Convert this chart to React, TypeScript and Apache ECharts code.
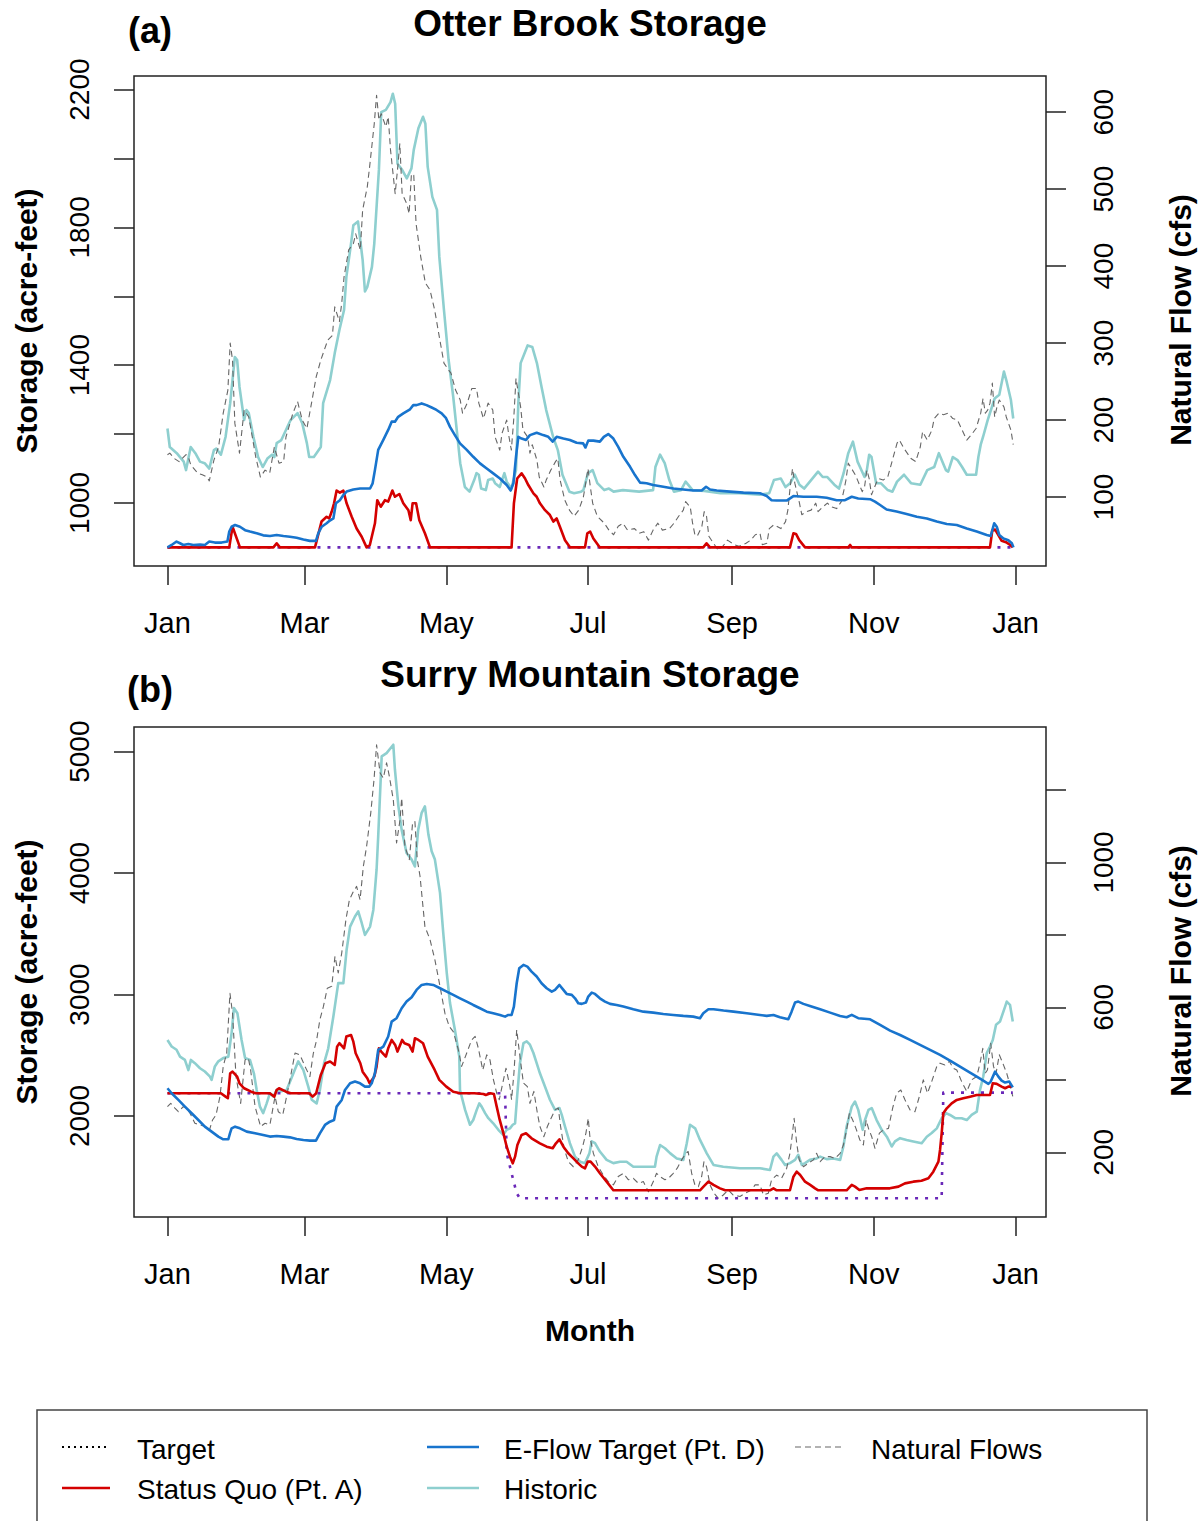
import React, { useEffect, useRef } from "react";
import * as echarts from "echarts";

const FONT = '"Liberation Sans", Arial, Helvetica, sans-serif';

// ---- axes / tick values ----
const monthDays = [0, 59, 120, 181, 243, 304, 365];
const monthLabels = ["Jan", "Mar", "May", "Jul", "Sep", "Nov", "Jan"];
const otterStorageTicks = [1000, 1200, 1400, 1600, 1800, 2000, 2200];
const otterStorageLabels = [1000, 1400, 1800, 2200];
const otterFlowTicks = [100, 200, 300, 400, 500, 600];
const surryStorageTicks = [2000, 3000, 4000, 5000];
const surryFlowTicks = [200, 400, 600, 800, 1000, 1200];
const surryFlowLabels = [200, 600, 1000];

// ---- Otter Brook (day of year, value) ----
const otterTarget = [[0, 871], [364, 871]];
const otterStatusQuo = [[0,871],[26.6,871],[28,931],[31.2,871],[45.6,871],[47,883],[48.4,871],[63.5,871],[66.3,946],[68.5,960],[69.6,955],[70.7,975],[71.7,999],[72.8,1036],[74.2,1030],[75.7,1036],[77.1,999],[79.3,960],[81.4,926],[83.6,902],[85.7,871],[87.1,878],[89.3,941],[90.3,1008],[91.8,989],[93.6,1008],[95,1004],[96.8,1036],[97.9,1018],[99.8,1026],[101.5,999],[103.7,979],[104.7,950],[105.5,999],[107,999],[108.4,950],[110.8,912],[113,871],[148.1,871],[149.1,999],[150.5,1071],[152.4,1086],[153.9,1071],[155.3,1052],[157.5,1028],[158.9,1018],[160.3,999],[162.5,979],[164.6,965],[166.1,946],[167.5,955],[168.9,931],[171.1,892],[173.3,871],[179.7,871],[180.7,912],[181.9,917],[183.3,897],[186.1,871],[230.6,871],[232,883],[233.5,871],[267.9,871],[269.4,912],[270.5,910],[271.9,892],[274.4,871],[293,871],[293.8,878],[294.5,871],[354,871],[355,921],[356.2,923],[357.6,907],[359,890],[361.2,885],[362.7,878],[363.8,871]];
const otterEFlow = [[0,871],[1.8,878],[3.9,888],[5.4,883],[6.8,878],[9,881],[11.1,878],[14,879],[16.1,878],[18,888],[20.4,885],[23.3,885],[25.8,888],[26.6,917],[27.6,931],[29.1,936],[31.2,931],[33.4,921],[35.5,917],[38.4,912],[41.2,906],[44.1,904],[47,907],[49.9,904],[52.7,902],[55.6,899],[58.5,894],[61.3,890],[63.9,890],[64.9,912],[66.4,931],[68.5,941],[69.9,949],[71.4,955],[72.5,999],[74.2,1008],[75.7,1023],[77.1,1033],[80,1039],[82.9,1042],[85,1042],[87.2,1042],[88.3,1057],[89.3,1096],[90.7,1154],[92.9,1183],[95,1212],[96.5,1236],[97.9,1236],[99.3,1250],[101.5,1260],[104.4,1272],[105.8,1284],[107.2,1284],[109.4,1289],[111.5,1284],[113.7,1277],[115.8,1270],[118,1260],[119.9,1246],[121.6,1221],[123.7,1197],[125.9,1173],[128.8,1154],[131.6,1134],[134.5,1115],[137.4,1100],[140.2,1086],[143.1,1071],[146,1052],[147.7,1036],[148.9,1057],[150,1134],[151,1192],[152.4,1187],[154.3,1183],[156,1197],[158.9,1204],[161.7,1197],[163.9,1192],[165.8,1178],[167.5,1192],[170.4,1187],[173.2,1183],[176.1,1175],[178.9,1173],[179.9,1161],[181.1,1181],[183.3,1181],[186.1,1178],[187.8,1192],[189.7,1200],[191.9,1187],[194,1163],[196.2,1134],[199.1,1105],[201.2,1081],[203.4,1059],[206.2,1057],[209,1052],[213.4,1047],[217.7,1042],[222,1039],[226.3,1036],[229.9,1036],[231.8,1047],[233.5,1039],[236.4,1036],[242.1,1033],[247.9,1030],[255,1028],[257.9,1020],[260,1008],[262.2,1007],[266.5,1007],[269.4,1020],[273.7,1018],[279.4,1018],[283.7,1015],[288,1008],[291.6,1008],[294.5,1018],[297.3,1013],[302.4,1011],[304.5,1004],[306.7,994],[309.5,981],[313.8,975],[318.1,968],[322.5,960],[326.8,955],[331.1,946],[335.4,939],[339.7,936],[344,926],[348.3,917],[352.6,907],[354.3,904],[355.8,941],[356.9,931],[358,907],[359.8,897],[361.9,892],[363.4,883],[364.1,871]];
const otterHistoric = [[0,189],[1,165],[4,157],[7,146],[8,135],[10,165],[12,157],[14,146],[16,144],[18,137],[20,161],[21,163],[23,155],[25,178],[27,222],[29,282],[30,278],[31,243],[33,200],[34,213],[35,209],[37,178],[39,152],[41,139],[43,150],[45,155],[46,152],[47,170],[49,174],[51,187],[53,200],[56,209],[58,196],[60,170],[61,152],[63,152],[66,165],[67,222],[70,252],[72,287],[74,317],[76,343],[77,386],[79,429],[80,453],[82,458],[84,408],[85,367],[86,373],[88,399],[89,429],[91,525],[92,600],[94,603],[96,613],[97,624],[98,611],[99,533],[101,525],[103,514],[105,527],[106,551],[108,579],[110,594],[111,585],[112,529],[114,490],[116,473],[117,412],[119,343],[121,278],[123,230],[126,144],[128,113],[130,107],[132,122],[133,131],[134,129],[135,111],[137,109],[138,122],[140,124],[141,118],[143,113],[145,131],[146,120],[148,111],[150,135],[151,222],[152,274],[155,297],[157,295],[159,274],[161,243],[163,213],[166,178],[168,161],[170,129],[173,107],[175,105],[178,107],[179,109],[181,131],[183,135],[185,118],[188,109],[190,111],[192,107],[196,109],[203,107],[209,109],[210,139],[212,155],[214,144],[216,122],[218,107],[221,109],[223,120],[226,109],[231,108],[238,105],[246,105],[255,103],[259,105],[261,122],[264,124],[266,113],[268,118],[270,129],[272,116],[274,111],[277,122],[280,133],[282,126],[284,126],[287,116],[289,111],[291,131],[293,157],[295,172],[297,146],[300,126],[301,135],[302,155],[303,152],[305,118],[307,118],[310,109],[312,107],[314,120],[317,129],[320,118],[324,116],[327,135],[330,139],[332,157],[335,135],[336,133],[338,152],[340,148],[342,139],[344,129],[348,129],[349,152],[350,168],[351,178],[353,200],[356,228],[358,233],[360,263],[361,252],[363,226],[364,202]];
const otterNatural = [[0,155],[1,157],[3,150],[5,146],[8,155],[9,152],[10,142],[13,131],[15,129],[17,126],[18,121],[20,148],[22,165],[24,209],[26,239],[27,300],[28,278],[29,196],[31,157],[33,213],[35,204],[36,187],[38,152],[40,126],[42,135],[44,131],[46,165],[48,144],[50,146],[51,178],[54,209],[56,224],[58,200],[60,189],[62,222],[64,256],[66,278],[69,304],[71,310],[72,347],[74,328],[75,352],[76,386],[78,421],[80,429],[81,442],[83,421],[84,473],[86,503],[87,529],[89,585],[90,622],[91,590],[92,598],[94,581],[95,594],[96,551],[98,494],[99,525],[100,559],[101,494],[103,481],[104,468],[105,520],[106,518],[107,455],[109,412],[111,378],[113,369],[115,343],[117,308],[119,274],[121,265],[122,261],[124,239],[126,226],[127,209],[129,222],[131,241],[133,241],[134,222],[136,202],[138,222],[140,213],[141,178],[143,161],[144,183],[146,200],[147,178],[148,161],[149,200],[150,254],[152,217],[153,187],[155,178],[156,157],[157,168],[159,148],[160,126],[162,113],[163,122],[165,135],[167,146],[168,150],[169,122],[171,96],[173,83],[175,75],[177,83],[179,100],[180,118],[181,137],[182,113],[183,92],[185,75],[188,66],[190,57],[192,51],[194,62],[196,66],[198,57],[201,59],[203,53],[205,55],[207,44],[209,57],[211,66],[212,62],[213,57],[216,59],[218,66],[220,75],[222,83],[223,94],[225,87],[226,66],[227,51],[228,49],[230,62],[231,81],[232,75],[233,49],[235,40],[237,31],[239,36],[241,44],[244,38],[246,36],[249,40],[251,44],[253,51],[255,53],[256,38],[258,40],[259,59],[261,64],[264,59],[266,68],[267,83],[268,113],[269,137],[270,118],[272,92],[273,77],[275,81],[277,83],[279,92],[280,81],[282,87],[284,92],[286,87],[288,85],[290,94],[291,107],[292,122],[293,144],[294,139],[296,129],[297,122],[299,107],[300,113],[301,135],[302,124],[303,103],[305,118],[306,124],[308,122],[310,126],[312,148],[314,170],[315,174],[317,163],[320,150],[322,146],[324,165],[325,185],[327,174],[329,187],[330,202],[332,209],[334,207],[336,209],[338,202],[340,200],[342,187],[344,174],[346,181],[348,189],[350,209],[351,228],[352,209],[353,213],[354,222],[355,248],[356,204],[357,217],[358,226],[359,222],[360,217],[361,204],[363,187],[364,168]];

// ---- Surry Mountain (day of year, value) ----
const surryTarget = [[0,2187],[145.3,2187],[146,1692],[148.1,1528],[150.3,1363],[151.7,1322],[333.2,1322],[333.9,2192],[363.8,2192]];
const surryStatusQuo = [[0,2187],[23,2187],[25,2159],[26,2146],[27,2352],[28,2365],[30,2324],[31,2269],[33,2228],[36,2200],[38,2187],[44,2187],[46,2159],[47,2214],[48,2228],[51,2200],[53,2187],[61,2187],[62.5,2159],[64,2187],[66,2338],[68,2434],[70,2448],[72,2420],[73,2571],[74,2599],[76,2557],[77,2654],[79,2667],[80,2612],[81,2516],[83,2434],[84,2365],[86,2310],[87,2269],[89,2324],[90,2406],[91,2557],[92,2530],[94,2489],[95,2557],[96.5,2626],[98,2585],[99,2530],[101,2626],[102,2599],[104,2585],[105.5,2530],[106.5,2640],[108,2626],[110,2599],[112,2489],[115,2379],[117,2297],[120,2242],[123,2200],[126,2187],[132,2187],[136,2181],[137,2173],[139,2187],[140.5,2181],[141.7,2077],[143,1967],[144.6,1857],[146,1747],[147.4,1665],[148.6,1610],[149.6,1665],[150.6,1761],[152.4,1844],[154.3,1857],[156.7,1816],[160.3,1775],[163.2,1747],[165.8,1734],[167.2,1775],[168.7,1808],[170.4,1747],[172.5,1693],[174.7,1651],[176.8,1610],[178.3,1583],[179.7,1569],[180.9,1624],[182.1,1624],[184,1583],[186.1,1528],[189,1459],[191.9,1388],[229.2,1388],[230.7,1418],[232.8,1459],[235,1432],[237.8,1404],[240,1388],[259.3,1388],[260.8,1404],[262.2,1388],[267.9,1388],[269.4,1500],[270.8,1542],[272.3,1514],[274.4,1459],[276.6,1432],[278.7,1404],[280.1,1388],[292.3,1388],[294.5,1432],[295.9,1418],[297.8,1390],[300.9,1404],[310.9,1404],[314.6,1418],[317.4,1445],[321,1459],[324.5,1467],[327.5,1487],[329.6,1541],[331.8,1624],[332.5,1720],[333.2,1857],[333.9,2022],[335.4,2063],[337.5,2104],[339.7,2132],[342.5,2146],[345.4,2159],[348.3,2173],[354,2173],[355.2,2269],[356.9,2264],[359,2242],[360.5,2228],[361.9,2242],[363.4,2242]];
const surryEFlow = [[0,2228],[1.8,2187],[4.7,2132],[7.5,2077],[10.4,2022],[13.3,1967],[16.1,1912],[19,1871],[21.9,1830],[24,1808],[26.2,1808],[26.9,1857],[27.6,1898],[29.1,1912],[31.2,1898],[34.1,1871],[37.7,1857],[41.2,1844],[44.1,1830],[47,1835],[49.9,1830],[52.7,1824],[55.6,1811],[58.5,1802],[61.3,1797],[63.9,1797],[65.6,1857],[67.8,1926],[69.9,1953],[71.7,1967],[72.8,2077],[75,2132],[76.4,2214],[78.6,2269],[80.7,2283],[82.9,2269],[85,2242],[86.9,2242],[87.9,2269],[89.3,2352],[90.7,2544],[92.9,2571],[95,2654],[96.5,2777],[98.6,2805],[100.8,2887],[102.9,2942],[105.1,2978],[107.2,3038],[109.4,3079],[111.6,3087],[114.4,3079],[117.3,3052],[120.2,3024],[123,2997],[125.9,2969],[128.8,2942],[131.6,2914],[134.5,2887],[137.4,2859],[140.2,2846],[143.1,2832],[145.3,2818],[146.7,2832],[148.1,2832],[149.1,2901],[150.3,3093],[151.4,3216],[153.2,3244],[154.9,3230],[156.7,3189],[158.9,3148],[161,3093],[163.2,3052],[165.4,3024],[166.8,3038],[168.7,3079],[170.4,3038],[171.8,3005],[174,2997],[175.4,2969],[176.8,2928],[178.3,2923],[180.1,2934],[181.1,2983],[182.6,3016],[184,3005],[186.1,2969],[188.3,2942],[190.5,2923],[193.3,2914],[196.2,2901],[200.5,2879],[204.8,2859],[209.1,2851],[213.4,2840],[217.7,2832],[222,2824],[226.3,2818],[229.2,2805],[230.6,2846],[232.8,2879],[235,2879],[239.3,2868],[243.6,2859],[249.3,2846],[255,2832],[257.9,2824],[260.8,2832],[263.6,2813],[267.2,2796],[268.6,2859],[270.1,2934],[271.5,2942],[273.7,2923],[276.5,2906],[280.9,2879],[285.2,2851],[289.5,2824],[292.3,2813],[294.5,2832],[297.3,2805],[302.4,2796],[306.7,2750],[311,2703],[315.3,2667],[319.6,2626],[323.9,2585],[328.2,2544],[332.5,2503],[336.8,2456],[341.1,2406],[345.4,2357],[348.3,2324],[351.1,2291],[353.3,2264],[354.3,2283],[356.2,2365],[357.6,2324],[359,2291],[360.5,2275],[362.3,2283],[363.8,2236]];
const surryHistoric = [[0,510],[1.8,492],[3.9,483],[5.4,464],[7.5,455],[9,427],[10.1,455],[11.8,446],[14,432],[16.1,423],[18.3,409],[19,400],[20.4,437],[21.9,451],[24,460],[26.2,464],[27.6,529],[28.6,598],[30.1,584],[31.9,510],[33.4,460],[35.5,455],[37.2,418],[38.4,372],[39.8,326],[41.2,308],[42.7,335],[44.1,363],[45.6,354],[47,372],[48.4,368],[51.3,372],[54.2,418],[56.3,451],[58.5,427],[60.6,381],[62.1,345],[64.2,335],[65.6,372],[67.4,446],[69.2,487],[71.4,575],[73.5,667],[75.7,667],[77.1,759],[78.6,823],[80.7,851],[82.1,865],[83.6,833],[85,800],[87.2,823],[88.6,869],[90,980],[90.7,1072],[92.2,1293],[94.3,1302],[97.2,1325],[97.9,1256],[99.4,1155],[100.8,1090],[102.9,1026],[105.1,1008],[106.5,989],[107.9,1090],[109.4,1137],[110.8,1155],[112.3,1077],[113.7,1031],[115.1,1008],[117.3,916],[118.7,805],[120.2,695],[121.6,612],[123.7,538],[125.6,464],[125.9,372],[128.1,317],[130.2,276],[131.6,289],[133.1,317],[134.2,335],[135.2,326],[136.7,308],[138.1,294],[140.2,280],[142.4,262],[144.5,248],[146,262],[147.4,266],[148.6,276],[149.6,280],[150.6,363],[151.7,446],[153.2,501],[154.6,506],[156,497],[157.5,474],[158.9,446],[160.3,418],[162.5,381],[164.6,345],[166.8,317],[168.7,322],[169.7,303],[171.1,271],[173.2,225],[175.4,188],[177.6,174],[179.7,170],[181.6,197],[182.6,230],[184,225],[186.1,202],[189,179],[191.9,170],[194.8,174],[197.6,174],[200.5,160],[206.2,160],[209.8,160],[210.5,188],[212,220],[214.1,211],[216.4,197],[219.2,183],[222,179],[223.5,225],[224.9,276],[227.1,266],[229.2,234],[232.1,197],[235,165],[239.2,160],[246.4,156],[255,156],[259.3,151],[260.8,188],[262.2,197],[264.3,179],[265.8,165],[267.9,170],[270.1,179],[271.5,193],[273,165],[274.4,170],[276.5,179],[279.4,183],[280.9,188],[283.7,181],[286.6,183],[289.5,179],[290.9,216],[292.3,271],[294.5,326],[295.9,340],[297.3,317],[299.2,262],[300.2,289],[301.7,317],[303.1,322],[305.2,289],[307.4,262],[309.6,243],[311.7,216],[313.1,230],[315.3,239],[318.1,234],[321,230],[324.6,225],[326.8,243],[328.9,253],[331.1,266],[333.2,294],[335.1,308],[336.8,303],[339,294],[341.8,294],[344,289],[346.1,303],[348.3,312],[349.7,372],[351.1,409],[352.6,474],[354,492],[355.2,510],[356.6,552],[358.3,561],[360.5,602],[361.2,616],[362.6,607],[363.8,561]];
const surryNatural = [[0,326],[1.4,335],[3.2,322],[4.7,312],[6.8,326],[8.2,322],[9.7,308],[11.8,280],[14,276],[16.1,271],[18,260],[19.4,289],[20.9,303],[22.6,354],[24,437],[25.5,474],[26.9,639],[28,584],[29.5,409],[31.5,335],[33.4,455],[34.8,460],[35.8,427],[37.7,326],[40.1,271],[42,280],[44.1,276],[46.3,354],[47.7,312],[49.6,303],[51,345],[52.7,400],[54.9,474],[57,469],[59.2,437],[61.3,409],[62.8,474],[64.2,510],[65.6,566],[67.1,602],[68.8,653],[70.7,658],[72.1,741],[73.5,695],[75,750],[76.8,842],[78.3,897],[79.7,916],[81.4,934],[82.9,897],[84.3,989],[85.7,1044],[87.5,1137],[88.9,1229],[90,1325],[91.5,1247],[92.9,1233],[94.3,1275],[95.5,1238],[97.2,1173],[98.6,1054],[100.1,1118],[100.8,1178],[102.2,1044],[104.1,1008],[105.5,1109],[106.5,1113],[107.5,1008],[108.7,962],[110.8,823],[113,787],[115.1,731],[117.3,658],[119.4,584],[121.3,547],[123,533],[125.2,483],[126.6,437],[128.8,474],[130.9,510],[132.4,520],[133.8,487],[135.7,427],[137.4,469],[138.8,455],[140.3,400],[141.7,363],[142.8,345],[144.3,391],[145.7,432],[147.4,381],[148.1,345],[149.1,418],[150.3,538],[151.7,464],[153.2,391],[154.9,381],[156,335],[157.7,368],[159.2,308],[160.3,271],[162,243],[163.5,271],[165.1,294],[166.8,317],[168.2,322],[169.2,271],[170.7,211],[172.5,174],[174.7,160],[176.8,179],[178.7,216],[180.1,253],[181.1,294],[181.8,243],[183.3,197],[185.4,160],[187.6,137],[189.7,119],[191.9,110],[194,133],[196.2,142],[198.4,124],[200.5,128],[202.7,114],[204.8,119],[207,91],[209.1,119],[210.5,142],[212,133],[214.1,124],[215.6,128],[217.7,142],[219.4,156],[221.3,179],[223.1,197],[224.1,202],[225.6,142],[227,110],[228.5,105],[229.9,133],[230.9,174],[232,160],[233.5,110],[235.2,87],[237.1,73],[239.2,82],[241.4,96],[243.5,82],[246.4,78],[248.6,87],[251.4,96],[252.9,110],[255,110],[256.5,82],[258.6,87],[260,124],[262.2,137],[264.3,128],[266.5,156],[267.9,197],[269,253],[269.7,294],[270.8,225],[271.9,179],[273.7,160],[275.8,170],[278,179],[279.4,197],[280.9,174],[283,188],[285.2,188],[287.3,183],[289.5,197],[290.9,220],[292.3,262],[293.5,308],[294.9,289],[296.3,266],[298,234],[299.5,220],[300.7,289],[301.7,266],[303.1,243],[304.5,211],[306.4,253],[308.1,262],[310.3,266],[312.1,322],[313.8,363],[315.6,372],[317.4,345],[319.6,317],[321.7,312],[323.6,354],[325.3,400],[327.1,363],[328.9,395],[331.1,437],[332.5,446],[334.6,441],[336.5,451],[338.2,432],[339.7,427],[341.8,395],[344,368],[346.1,400],[348.3,409],[349.7,446],[350.9,487],[351.9,418],[352.9,427],[354.3,501],[355.5,437],[356.6,418],[358,469],[359.5,446],[361.2,418],[362.6,386],[363.8,354]];

const C = {
  target: "#6a28b8",
  sq: "#d40000",
  eflow: "#1874cd",
  hist: "#8ecfcf",
  nat: "#666666",
  axis: "#222",
};

function xAxisFor(gridIndex: number) {
  return {
    type: "value",
    gridIndex,
    min: -14.4,
    max: 378.1,
    axisLine: { show: false, onZero: false },
    splitLine: { show: false },
    axisTick: { show: true, length: 19, customValues: monthDays, lineStyle: { color: C.axis, width: 1.5 } },
    axisLabel: {
      customValues: monthDays,
      formatter: (v: number) => monthLabels[monthDays.indexOf(v)] ?? "",
      fontSize: 29,
      fontFamily: FONT,
      color: "#000",
      margin: 42,
    },
  };
}

function yAxisFor(gridIndex: number, position: string, min: number, max: number, ticks: number[], labels: number[]) {
  return {
    type: "value",
    gridIndex,
    position,
    min,
    max,
    axisLine: { show: false, onZero: false },
    splitLine: { show: false },
    axisTick: { show: true, length: 20, customValues: ticks, lineStyle: { color: C.axis, width: 1.5 } },
    axisLabel: {
      customValues: labels,
      formatter: (v: number) => String(v),
      rotate: 90,
      fontSize: 28,
      fontFamily: FONT,
      color: "#000",
      margin: position === "left" ? 41 : 43,
    },
  };
}

function line(name: string, data: number[][], gi: number, yi: number, color: string, width: number, type: any, z: number) {
  return {
    type: "line",
    name,
    data,
    xAxisIndex: gi,
    yAxisIndex: yi,
    showSymbol: false,
    symbol: "none",
    silent: true,
    z,
    lineStyle: { color, width, type, cap: "butt", join: "round" },
  };
}

function txt(text: string, x: number, y: number, size: number, bold: boolean, rotation = 0, align = "center") {
  return {
    type: "text",
    x,
    y,
    rotation,
    silent: true,
    style: {
      text,
      fill: "#000",
      fontSize: size,
      fontWeight: bold ? "bold" : "normal",
      fontFamily: FONT,
      align,
      verticalAlign: "middle",
    },
  };
}

function seg(x1: number, x2: number, y: number, stroke: string, lineWidth: number, lineDash?: number[]) {
  return {
    type: "line",
    silent: true,
    shape: { x1, y1: y, x2, y2: y },
    style: { stroke, lineWidth, lineDash },
  };
}

function buildOption() {
  const gridBase = { left: 134, width: 912, height: 490, show: true, borderColor: C.axis, borderWidth: 1.5, backgroundColor: "transparent" };
  return {
    animation: false,
    backgroundColor: "#ffffff",
    grid: [
      { ...gridBase, top: 76 },
      { ...gridBase, top: 727 },
    ],
    xAxis: [xAxisFor(0), xAxisFor(1)],
    yAxis: [
      yAxisFor(0, "left", 817, 2239.5, otterStorageTicks, otterStorageLabels),
      yAxisFor(0, "right", 10.4, 647, otterFlowTicks, otterFlowTicks),
      yAxisFor(1, "left", 1168, 5203, surryStorageTicks, surryStorageTicks),
      yAxisFor(1, "right", 21.3, 1374, surryFlowTicks, surryFlowLabels),
    ],
    series: [
      line("Historic", otterHistoric, 0, 1, C.hist, 2.6, "solid", 2),
      line("Natural Flows", otterNatural, 0, 1, C.nat, 1.1, [6, 4], 3),
      line("Target", otterTarget, 0, 0, C.target, 2.6, [3, 7], 4),
      line("Status Quo (Pt. A)", otterStatusQuo, 0, 0, C.sq, 2.6, "solid", 5),
      line("E-Flow Target (Pt. D)", otterEFlow, 0, 0, C.eflow, 2.6, "solid", 6),
      line("Historic", surryHistoric, 1, 3, C.hist, 2.6, "solid", 2),
      line("Natural Flows", surryNatural, 1, 3, C.nat, 1.1, [6, 4], 3),
      line("Target", surryTarget, 1, 2, C.target, 2.6, [3, 7], 4),
      line("Status Quo (Pt. A)", surryStatusQuo, 1, 2, C.sq, 2.6, "solid", 5),
      line("E-Flow Target (Pt. D)", surryEFlow, 1, 2, C.eflow, 2.6, "solid", 6),
    ],
    graphic: [
      txt("(a)", 150, 30, 36, true),
      txt("Otter Brook Storage", 590, 23, 37, true),
      txt("(b)", 150, 689, 36, true),
      txt("Surry Mountain Storage", 590, 674, 37, true),
      txt("Storage (acre-feet)", 26, 321, 30, true, Math.PI / 2),
      txt("Storage (acre-feet)", 26, 972, 30, true, Math.PI / 2),
      txt("Natural Flow (cfs)", 1180, 320, 30, true, Math.PI / 2),
      txt("Natural Flow (cfs)", 1180, 971, 30, true, Math.PI / 2),
      txt("Month", 590, 1330, 30, true),
      {
        type: "rect",
        silent: true,
        shape: { x: 37, y: 1410, width: 1110, height: 140 },
        style: { fill: "transparent", stroke: "#444", lineWidth: 1.5 },
      },
      seg(62, 108, 1447, "#000", 2, [2, 4]),
      seg(62, 110, 1488, C.sq, 2.6),
      seg(427, 479, 1447, C.eflow, 2.6),
      seg(427, 479, 1488, C.hist, 2.6),
      seg(795, 843, 1447, C.nat, 1.2, [6, 4]),
      txt("Target", 137, 1449, 28, false, 0, "left"),
      txt("Status Quo (Pt. A)", 137, 1489, 28, false, 0, "left"),
      txt("E-Flow Target (Pt. D)", 504, 1449, 28, false, 0, "left"),
      txt("Historic", 504, 1489, 28, false, 0, "left"),
      txt("Natural Flows", 871, 1449, 28, false, 0, "left"),
    ],
  };
}

export default function App() {
  const ref = useRef<HTMLDivElement>(null);
  useEffect(() => {
    if (!ref.current) return;
    const chart = echarts.init(ref.current, null, { renderer: "svg" });
    chart.setOption(buildOption() as any);
    return () => chart.dispose();
  }, []);
  return (
    <div
      ref={ref}
      style={{ position: "absolute", left: 0, top: 0, width: 1201, height: 1521, background: "#fff" }}
    />
  );
}
